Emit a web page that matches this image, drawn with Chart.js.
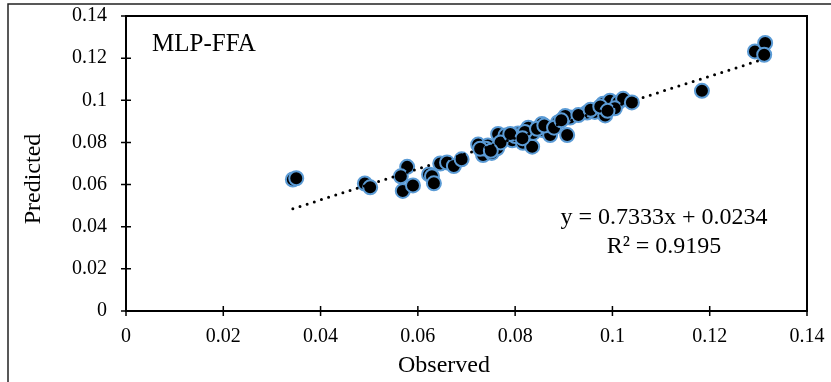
<!DOCTYPE html>
<html>
<head>
<meta charset="utf-8">
<script src="https://cdn.jsdelivr.net/npm/chart.js@4/dist/chart.umd.min.js"></script>
<style>
  body { margin: 0; background: #fff; }
  canvas { display: block; }
</style>
</head>
<body>
<canvas id="chartScatter" width="831" height="382"></canvas>
<script>
const observed = [
  0.0343, 0.0350, 0.0491, 0.0502, 0.0578, 0.0565, 0.0569, 0.0590, 0.0623, 0.0629,
  0.0633, 0.0646, 0.0660, 0.0674, 0.0690, 0.0724, 0.0734, 0.0744, 0.0752, 0.0763,
  0.0765, 0.0780, 0.0794, 0.0806, 0.0816, 0.0835, 0.0827, 0.0837, 0.0855, 0.0857,
  0.0872, 0.0888, 0.0907, 0.0913, 0.0903, 0.0948, 0.0964, 0.0985, 0.0981, 0.0995,
  0.1012, 0.1022, 0.1005, 0.1040, 0.1184, 0.1293, 0.1314, 0.1312,
  0.0740, 0.0770, 0.0800, 0.0820, 0.0845, 0.0860, 0.0880, 0.0895, 0.0930, 0.0955,
  0.0975, 0.0990, 0.0790, 0.0815, 0.0728, 0.0750,
];
const predicted = [
  0.0624, 0.0630, 0.0605, 0.0587, 0.0684, 0.0639, 0.0570, 0.0596, 0.0648, 0.0640,
  0.0606, 0.0700, 0.0705, 0.0688, 0.0720, 0.0790, 0.0740, 0.0785, 0.0750, 0.0772,
  0.0840, 0.0833, 0.0810, 0.0842, 0.0798, 0.0780, 0.0870, 0.0845, 0.0888, 0.0858,
  0.0835, 0.0895, 0.0835, 0.0918, 0.0925, 0.0942, 0.0945, 0.0928, 0.0984, 0.0998,
  0.0990, 0.1007, 0.0962, 0.0990, 0.1045, 0.1232, 0.1272, 0.1216,
  0.0770, 0.0800, 0.0830, 0.0850, 0.0865, 0.0880, 0.0870, 0.0905, 0.0930, 0.0955,
  0.0970, 0.0950, 0.0840, 0.0820, 0.0770, 0.0760,
];
const tickValues = [0, 0.02, 0.04, 0.06, 0.08, 0.1, 0.12, 0.14];
const tickLabels = ['0', '0.02', '0.04', '0.06', '0.08', '0.1', '0.12', '0.14'];
const slope = 0.7333;
const intercept = 0.0234;
const equationText = 'y = 0.7333x + 0.0234';
const r2Text = 'R² = 0.9195';
const modelName = 'MLP-FFA';

const serif = "'Liberation Serif', 'Times New Roman', serif";
const points = observed.map((x, i) => ({ x, y: predicted[i] }));
const xMin = Math.min(...observed);
const xMax = Math.max(...observed);

const useTicks = (scale) => {
  scale.ticks = tickValues.map((value) => ({ value }));
};

const excelFrame = {
  id: 'excelFrame',
  afterDraw(chart) {
    const { ctx, chartArea, scales } = chart;
    ctx.save();
    ctx.strokeStyle = '#000';
    ctx.lineWidth = 2;
    ctx.strokeRect(chartArea.left, chartArea.top, chartArea.right - chartArea.left, chartArea.bottom - chartArea.top);

    ctx.beginPath();
    tickValues.forEach((v) => {
      const px = scales.x.getPixelForValue(v);
      ctx.moveTo(px, chartArea.bottom - 5);
      ctx.lineTo(px, chartArea.bottom + 5);
      const py = scales.y.getPixelForValue(v);
      ctx.moveTo(chartArea.left - 5, py);
      ctx.lineTo(chartArea.left + 5, py);
    });
    ctx.lineWidth = 1.5;
    ctx.stroke();

    // outer chart frame
    ctx.lineWidth = 1.5;
    ctx.strokeStyle = '#222';
    ctx.strokeRect(8, 4, 840, 400);

    ctx.fillStyle = '#000';
    ctx.textBaseline = 'middle';
    ctx.font = `25px ${serif}`;
    ctx.textAlign = 'left';
    ctx.fillText(modelName, 152, 44);

    ctx.font = `24px ${serif}`;
    ctx.textAlign = 'center';
    ctx.fillText(equationText, 664, 218);
    ctx.fillText(r2Text, 664, 247);

    ctx.fillText('Observed', 444, 366);

    ctx.translate(34, 179);
    ctx.rotate(-Math.PI / 2);
    ctx.fillText('Predicted', 0, 0);
    ctx.restore();
  },
};

new Chart(document.getElementById('chartScatter'), {
  type: 'scatter',
  data: {
    datasets: [
      {
        label: 'Trend',
        type: 'line',
        data: [
          { x: xMin, y: slope * xMin + intercept },
          { x: xMax, y: slope * xMax + intercept },
        ],
        borderColor: '#000',
        borderWidth: 3,
        borderDash: [0, 7.5],
        borderCapStyle: 'round',
        pointRadius: 0,
        fill: false,
        order: 0,
      },
      {
        label: 'Data',
        data: points,
        backgroundColor: '#000',
        borderColor: '#5B9BD5',
        borderWidth: 2,
        pointRadius: 7,
        order: 1,
      },
    ],
  },
  options: {
    responsive: false,
    animation: false,
    devicePixelRatio: 1,
    layout: {
      padding: { left: 0, right: 24, top: 16, bottom: 0 },
    },
    plugins: {
      legend: { display: false },
      tooltip: { enabled: false },
    },
    scales: {
      x: {
        type: 'linear',
        min: 0,
        max: 0.14,
        afterBuildTicks: useTicks,
        afterFit: (scale) => {
          scale.height = 71;
          scale.paddingLeft = 0;
          scale.paddingRight = 0;
        },
        grid: { display: false },
        border: { display: false },
        ticks: {
          padding: 6,
          color: '#000',
          font: { family: serif, size: 20 },
          maxRotation: 0,
          callback: (v, i) => tickLabels[i],
        },
      },
      y: {
        type: 'linear',
        min: 0,
        max: 0.14,
        afterBuildTicks: useTicks,
        afterFit: (scale) => {
          scale.width = 126;
          scale.paddingTop = 0;
          scale.paddingBottom = 0;
        },
        grid: { display: false },
        border: { display: false },
        ticks: {
          padding: 11,
          color: '#000',
          font: { family: serif, size: 20 },
          callback: (v, i) => tickLabels[i],
        },
      },
    },
  },
  plugins: [excelFrame],
});
</script>
</body>
</html>
